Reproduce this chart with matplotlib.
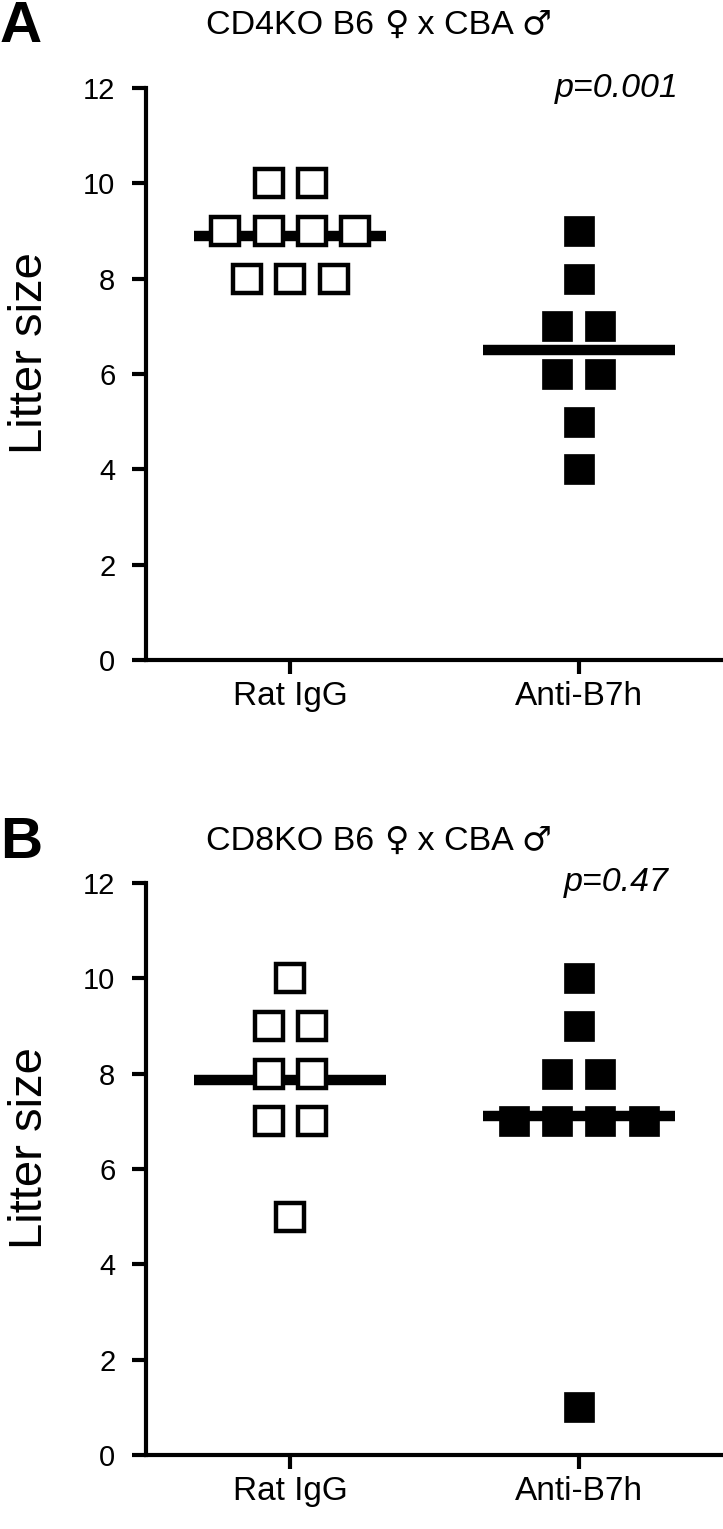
import numpy as np
import matplotlib
matplotlib.use("Agg")
import matplotlib.pyplot as plt
from matplotlib.offsetbox import TextArea, HPacker, AnchoredOffsetbox

plt.rcParams['font.family'] = ['Liberation Sans', 'DejaVu Sans']

groups = ['Rat IgG', 'Anti-B7h']

# panel A: CD4KO B6 female x CBA male
cd4_rat_igg = [10, 10, 9, 9, 9, 9, 8, 8, 8]
cd4_anti_b7h = [9, 8, 7, 7, 6, 6, 5, 4]
# panel B: CD8KO B6 female x CBA male
cd8_rat_igg = [10, 9, 9, 8, 8, 7, 7, 5]
cd8_anti_b7h = [10, 9, 8, 8, 7, 7, 7, 7, 1]

strains = ['CD4KO', 'CD8KO']
letters = ['A', 'B']
pvalues = ['p=0.001', 'p=0.47']
yticks = [0, 2, 4, 6, 8, 10, 12]

W, H = 723, 1529


def spread(values, step=0.15):
    # put equal values side by side, centred on the group position
    values = np.asarray(values)
    offs = np.zeros(len(values))
    for v in np.unique(values):
        idx = np.where(values == v)[0]
        n = len(idx)
        offs[idx] = (np.arange(n) - (n - 1) / 2) * step
    return offs


def draw_panel(ax, rat, anti, pval):
    for i, (vals, filled) in enumerate([(rat, False), (anti, True)]):
        m = np.mean(vals)
        ax.plot([i - 0.333, i + 0.333], [m, m], color='black', lw=7.5,
                solid_capstyle='butt', zorder=2)
        x = i + spread(vals)
        if filled:
            ax.plot(x, vals, 's', ms=21, mfc='black', mec='black', mew=0.5,
                    ls='none', zorder=3, clip_on=False)
        else:
            ax.plot(x, vals, 's', ms=20, mfc='white', mec='black', mew=3.2,
                    ls='none', zorder=3, clip_on=False)
    ax.set_xlim(-0.5, 1.5)
    ax.set_ylim(0, 12)
    ax.set_yticks(yticks)
    ax.set_xticks([0, 1])
    ax.set_xticklabels(groups, fontsize=24)
    ax.tick_params(axis='y', labelsize=21, length=10, width=3, pad=12)
    ax.tick_params(axis='x', length=10, width=3, pad=5)
    for s in ['top', 'right']:
        ax.spines[s].set_visible(False)
    for s in ['left', 'bottom']:
        ax.spines[s].set_linewidth(3)
    ax.set_ylabel('Litter size', fontsize=34)
    ax.yaxis.set_label_coords(-0.163, 0.537)
    ax.text(0.815, 1.0, pval, transform=ax.transAxes, fontsize=24.5,
            style='italic', ha='center', va='center')


def add_title(fig, strain, x, y):
    txt = dict(fontsize=24.5, family='Liberation Sans')
    sym = dict(fontsize=24, family='DejaVu Sans')
    parts = [TextArea(strain + ' B6 ', textprops=txt),
             TextArea('\u2640', textprops=sym),
             TextArea(' x CBA ', textprops=txt),
             TextArea('\u2642', textprops=sym)]
    box = HPacker(children=parts, align='baseline', pad=0, sep=0)
    anc = AnchoredOffsetbox(loc='center', child=box, pad=0, borderpad=0,
                            frameon=False, bbox_to_anchor=(x, y),
                            bbox_transform=fig.transFigure)
    fig.add_artist(anc)


fig = plt.figure(figsize=(W / 100, H / 100), dpi=100)
left = 146 / W
axA = fig.add_axes([left, (H - 660) / H, 1 - left, 572 / H])
axB = fig.add_axes([left, (H - 1455) / H, 1 - left, 572 / H])

draw_panel(axA, cd4_rat_igg, cd4_anti_b7h, pvalues[0])
draw_panel(axB, cd8_rat_igg, cd8_anti_b7h, pvalues[1])

for k, (ytitle, ybase) in enumerate([(24, 42), (840, 858)]):
    add_title(fig, strains[k], 379 / W, 1 - ytitle / H)
    fig.text(0.0, 1 - ybase / H, letters[k], fontsize=42, fontweight='bold',
             ha='left', va='baseline')

fig.savefig('out.png', dpi=100)
plt.close(fig)
